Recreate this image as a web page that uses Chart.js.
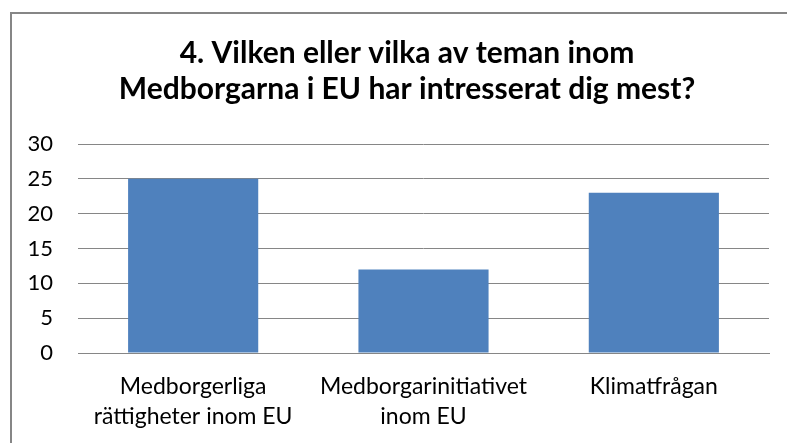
<!DOCTYPE html>
<html>
<head>
<meta charset="utf-8">
<script src="https://cdn.jsdelivr.net/npm/chart.js@4/dist/chart.umd.min.js"></script>
<style>
  body { margin: 0; background: #fff; overflow: hidden; }
  #frame { position: absolute; left: 10px; top: 12px; width: 900px; height: 600px; border: 2px solid #868686; }
  #wrap { position: absolute; left: 0; top: 0; width: 787px; height: 443px; }
</style>
</head>
<body>
<div id="frame"></div>
<div id="wrap"><canvas id="chart"></canvas></div>
<script>
// categories and values
const categories = [
  ["Medborgerliga", "rättigheter inom EU"],
  ["Medborgarinitiativet", "inom EU"],
  ["Klimatfrågan"]
];
const answers = [25, 12, 23];
const titleLines = ["4. Vilken eller vilka av teman inom", "Medborgarna i EU har intresserat dig mest?"];
const yTicks = [0, 5, 10, 15, 20, 25, 30];

const fontFamily = "Lato, 'Open Sans', sans-serif";

// the title in the reference sits a bit right of the canvas centre
const shiftTitle = {
  id: "shiftTitle",
  afterLayout(chart) {
    if (chart.titleBlock) chart.titleBlock.left = 45;
  }
};

new Chart(document.getElementById("chart"), {
  type: "bar",
  plugins: [shiftTitle],
  data: {
    labels: categories,
    datasets: [{
      data: answers,
      backgroundColor: "#4F81BD",
      categoryPercentage: 1,
      barPercentage: 0.565
    }]
  },
  options: {
    responsive: true,
    maintainAspectRatio: false,
    animation: false,
    layout: { padding: { left: 0, right: 18, top: 0, bottom: 0 } },
    plugins: {
      legend: { display: false },
      tooltip: { enabled: false },
      title: {
        display: true,
        text: titleLines,
        color: "#000",
        font: { family: fontFamily, size: 30, weight: "bold", lineHeight: 1.2 },
        padding: { top: 35, bottom: 37 }
      }
    },
    scales: {
      x: {
        grid: { display: false, drawTicks: false },
        border: { display: true, color: "#868686", width: 1 },
        ticks: {
          color: "#000",
          maxRotation: 0,
          autoSkip: false,
          padding: 19,
          font: { family: fontFamily, size: 23, lineHeight: 1.3 }
        },
        afterFit: (axis) => { axis.height = 90; }
      },
      y: {
        min: 0,
        max: 30,
        afterBuildTicks: (axis) => { axis.ticks = yTicks.map(v => ({ value: v })); },
        grid: { color: "#868686", lineWidth: 1, drawTicks: false },
        border: { display: false },
        ticks: {
          color: "#000",
          padding: 25,
          font: { family: fontFamily, size: 22 }
        },
        afterFit: (axis) => { axis.width = 78; }
      }
    }
  }
});
</script>
</body>
</html>
